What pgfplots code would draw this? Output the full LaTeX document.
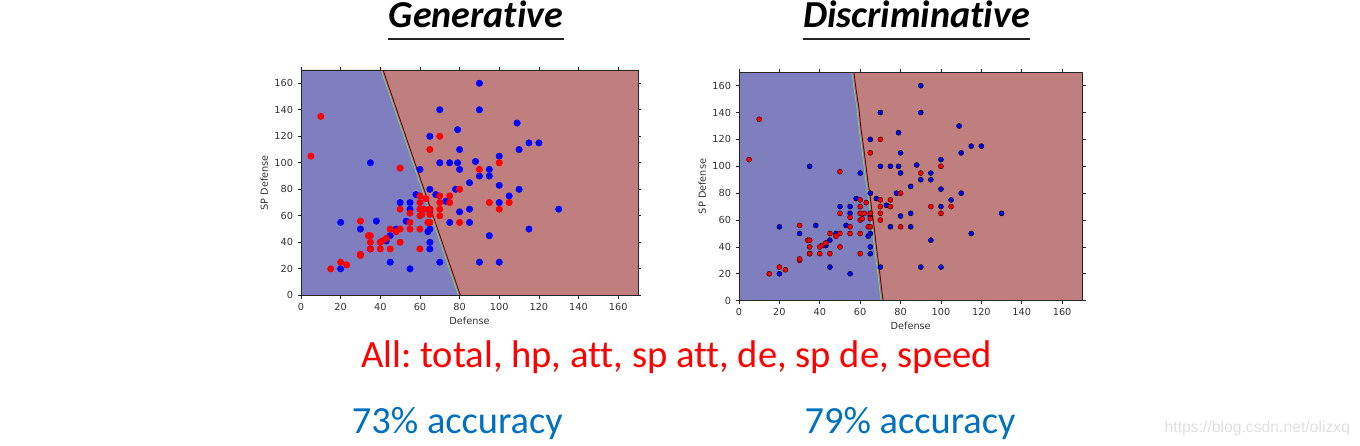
\documentclass[border=0pt]{standalone}
\usepackage{graphicx}
\usepackage{fontspec}
\usepackage{pgfplots}
\usepackage{pgfplotstable}
\pgfplotsset{compat=1.18}
\frenchspacing
\newfontfamily\calibri[Ligatures=NoCommon]{Carlito}
\newfontfamily\dejavu{DejaVu Sans}
\newfontfamily\arialf{Liberation Sans}
\definecolor{bluereg}{RGB}{127,127,191}
\definecolor{redreg}{RGB}{191,127,127}
\definecolor{ptblue}{RGB}{0,0,255}
\definecolor{ptred}{RGB}{255,0,0}
\definecolor{accblue}{RGB}{0,112,192}
\definecolor{bndred}{RGB}{128,0,0}
\definecolor{bndgreen}{RGB}{120,230,90}

\pgfplotstableread{
x y
90 160
70 140
90 140
109 130
79 125
65 120
115 115
120 115
80 110
110 110
100 105
35 100
70 100
75 100
79 100
88 101
60 95
80 95
95 95
90 90
95 90
85 85
100 83
65 80
78 80
110 80
58 76
68 76
105 75
73 71
50 70
55 70
100 70
55 65
65 65
85 65
130 65
80 63
65 63
53 56
38 56
20 55
75 55
85 55
30 50
65 50
64 48
115 50
48 50
45 45
43 41
95 45
65 40
35 35
65 35
45 25
70 25
90 25
100 25
20 20
55 20
}\bluepts

\pgfplotstableread{
x y
10 135
5 105
70 120
65 110
50 96
90 95
100 100
80 80
60 75
70 75
75 75
63 73
60 70
70 70
75 70
95 70
105 70
50 65
60 65
62 65
65 65
70 65
100 65
55 62
60 60
61 61
65 61
70 60
30 56
55 55
64 55
65 55
80 55
45 50
50 50
55 50
60 50
48 48
34 45
35 45
43 43
41 41
40 40
35 40
50 40
35 35
40 35
45 35
60 35
30 30
30 31
20 25
23 23
15 20
}\redpts

\pgfplotsset{
  scatax/.style={
    scale only axis,
    xmin=0, xmax=170, ymin=0, ymax=170,
    xtick={0,20,...,160}, ytick={0,20,...,160},
    tick align=outside,
    major tick length=2.5pt,
    axis on top=true,
    axis line style={black!85, line width=0.6pt},
    every tick/.style={black!85, line width=0.5pt},
    /pgf/number format/assume math mode=true,
    tick label style={font=\dejavu\fontsize{7.3}{8}\selectfont, text=black!80},
    label style={font=\dejavu\fontsize{7.3}{8}\selectfont, text=black!80},
    xlabel={Defense}, ylabel={SP Defense},
    xlabel style={yshift=2pt},
    ylabel style={yshift=-2pt},
    clip=true,
  }
}

\begin{document}
\begin{tikzpicture}
\useasboundingbox (0,0) rectangle (1020pt,334.5pt);

% ---------- Generative ----------
\begin{axis}[scatax, at={(225.75pt,113pt)}, anchor=south west,
  width=252.75pt, height=169pt]
  \addplot[fill=redreg, draw=none] coordinates {(0,0) (170,0) (170,170) (0,170) (0,0)};
  \addplot[fill=bluereg, draw=none] coordinates {(0,0) (80,0) (41,170) (0,170) (0,0)};
  \addplot[bndgreen, line width=0.5pt] coordinates {(79.4,0) (40.4,170)};
  \addplot[bndred, line width=0.7pt] coordinates {(80.4,0) (41.4,170)};
  \addplot[only marks, mark=*, mark size=2.4pt, ptblue, mark options={draw=ptblue, fill=ptblue}] table {\bluepts};
  \addplot[only marks, mark=*, mark size=2.4pt, ptred, mark options={draw=ptred, fill=ptred}] table {\redpts};
\end{axis}

% ---------- Discriminative ----------
\begin{axis}[scatax, at={(554.25pt,109pt)}, anchor=south west,
  width=257.5pt, height=171.3pt]
  \addplot[fill=redreg, draw=none] coordinates {(0,0) (170,0) (170,170) (0,170) (0,0)};
  \addplot[fill=bluereg, draw=none] coordinates {(0,0) (71,0) (70.5,5) (69.5,18) (68.5,30) (67.5,42) (66.5,55) (65.5,66) (64.5,78) (63.5,88) (62.5,100) (61.5,112) (60,128) (59,143) (57.5,158) (56.5,170) (0,170) (0,0)};
  \addplot[bndgreen, line width=0.5pt] coordinates {(70.4,0) (69.9,5) (68.9,18) (67.9,30) (66.9,42) (65.9,55) (64.9,66) (63.9,78) (62.9,88) (61.9,100) (60.9,112) (59.4,128) (58.4,143) (56.9,158) (55.9,170)};
  \addplot[bndred, line width=0.7pt] coordinates {(71.4,0) (70.9,5) (69.9,18) (68.9,30) (67.9,42) (66.9,55) (65.9,66) (64.9,78) (63.9,88) (62.9,100) (61.9,112) (60.4,128) (59.4,143) (57.9,158) (56.9,170)};
  \addplot[only marks, mark=*, mark size=1.9pt, mark options={draw=black, fill=ptblue, line width=0.35pt}] table {\bluepts};
  \addplot[only marks, mark=*, mark size=1.9pt, mark options={draw=black!80!red, fill=ptred, line width=0.35pt}] table {\redpts};
\end{axis}

% ---------- texts ----------
\node[anchor=base, inner sep=0pt] at (357pt,313.5pt) {\resizebox{130.5pt}{!}{\calibri\bfseries\itshape Generative}};
\draw[black!85, line width=1.5pt] (291pt,305.6pt) -- (423pt,305.6pt);
\node[anchor=base, inner sep=0pt] at (687.4pt,313.5pt) {\resizebox{170pt}{!}{\calibri\bfseries\itshape Discriminative}};
\draw[black!85, line width=1.5pt] (602pt,305.6pt) -- (772.5pt,305.6pt);

\node[anchor=base, inner sep=0pt, text=ptred] at (507.4pt,58.5pt) {\resizebox{473pt}{!}{\calibri All: total, hp, att, sp att, de, sp de, speed}};
\node[anchor=base, inner sep=0pt, text=accblue] at (343pt,9pt) {\resizebox{158pt}{!}{\calibri 73\% accuracy}};
\node[anchor=base, inner sep=0pt, text=accblue] at (682.5pt,9pt) {\resizebox{158pt}{!}{\calibri 79\% accuracy}};
\node[anchor=base, inner sep=0pt, text=black!12] at (943pt,9.75pt) {\resizebox{139pt}{!}{\arialf https://blog.csdn.net/olizxq}};
\end{tikzpicture}
\end{document}
